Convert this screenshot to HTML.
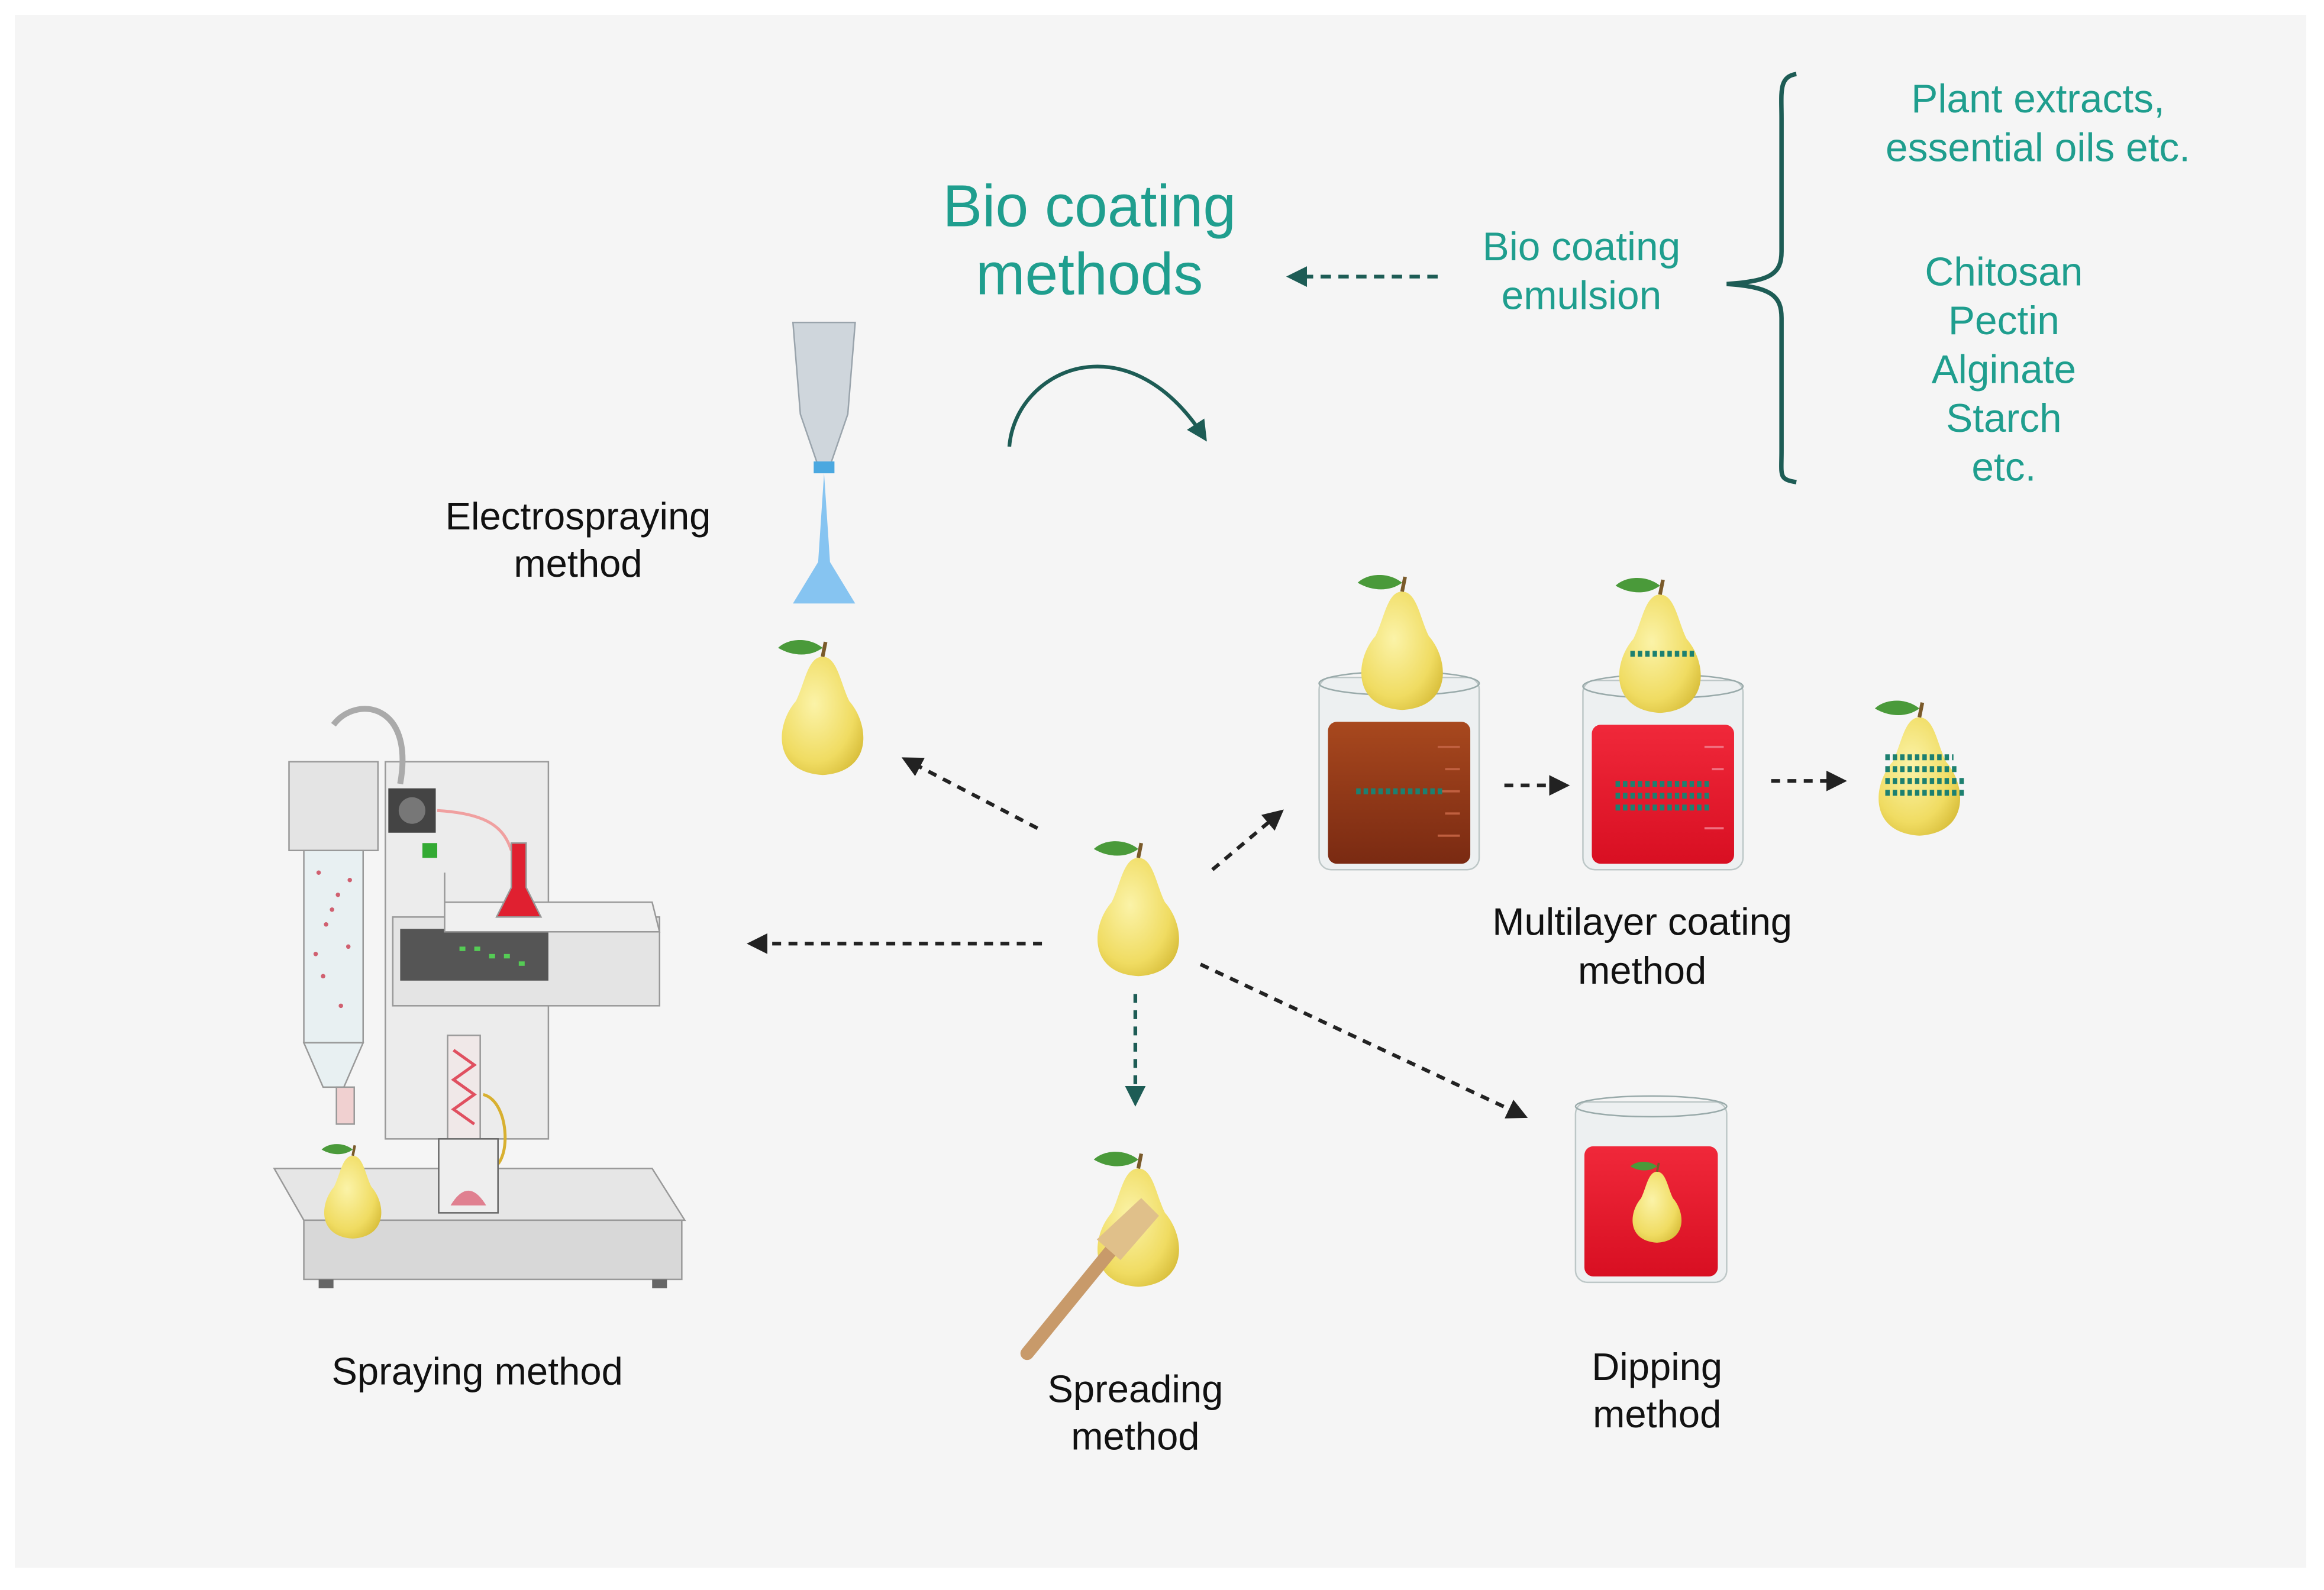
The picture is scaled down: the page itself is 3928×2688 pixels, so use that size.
<!DOCTYPE html>
<html><head><meta charset="utf-8"><style>
html,body{margin:0;padding:0;background:#fff;}
svg{display:block;}
text{font-family:"Liberation Sans",sans-serif;}
</style></head><body>
<svg width="3928" height="2688" viewBox="0 0 1568 1075" preserveAspectRatio="none" xmlns="http://www.w3.org/2000/svg">
<defs>
<radialGradient id="pg" cx="0.4" cy="0.4" r="0.7"><stop offset="0" stop-color="#fbf3a8"/><stop offset="0.7" stop-color="#f0dc62"/><stop offset="1" stop-color="#d9bf3c"/></radialGradient>
<linearGradient id="brown" x1="0" y1="0" x2="0" y2="1"><stop offset="0" stop-color="#a8481e"/><stop offset="1" stop-color="#7a2a12"/></linearGradient>
<linearGradient id="red" x1="0" y1="0" x2="0" y2="1"><stop offset="0" stop-color="#f0283a"/><stop offset="1" stop-color="#d80f22"/></linearGradient>
<marker id="ahb" viewBox="0 0 10 10" refX="7" refY="5" markerWidth="14" markerHeight="14" markerUnits="userSpaceOnUse" orient="auto"><path d="M0,0 L10,5 L0,10 z" fill="#222"/></marker>
<marker id="atb" viewBox="0 0 10 10" refX="7" refY="5" markerWidth="14" markerHeight="14" markerUnits="userSpaceOnUse" orient="auto"><path d="M0,0 L10,5 L0,10 z" fill="#1d5c55"/></marker>
<g id="pear">
<path d="M0,-38 C-10,-38 -12,-20 -18,-8 C-32,8 -34,40 0,42 C34,40 32,8 18,-8 C12,-20 10,-38 0,-38 z" fill="url(#pg)"/>
<path d="M0,-38 L2,-48" stroke="#7a5a2a" stroke-width="2.5"/>
<path d="M0,-44 C-10,-52 -24,-50 -30,-44 C-20,-38 -8,-38 0,-44 z" fill="#4a9a3a"/>
</g>
</defs>
<rect x="0" y="0" width="1568" height="1075" fill="#fff"/>
<rect x="10" y="10" width="1546" height="1050" fill="#f5f5f5"/>

<g fill="#1f9e8e" text-anchor="middle">
<text x="735" y="153" font-size="40">Bio coating</text>
<text x="735" y="199" font-size="40">methods</text>
<text x="1067" y="176" font-size="27">Bio coating</text>
<text x="1067" y="209" font-size="27">emulsion</text>
<text x="1375" y="76" font-size="27">Plant extracts,</text>
<text x="1375" y="109" font-size="27">essential oils etc.</text>
<text x="1352" y="193" font-size="27">Chitosan</text>
<text x="1352" y="226" font-size="27">Pectin</text>
<text x="1352" y="259" font-size="27">Alginate</text>
<text x="1352" y="292" font-size="27">Starch</text>
<text x="1352" y="325" font-size="27">etc.</text>
</g>
<path d="M1212,50 C1200,52 1202,62 1202,80 L1202,170 C1202,185 1195,190 1165,192 C1195,194 1202,200 1202,215 L1202,305 C1202,322 1200,324 1212,326" fill="none" stroke="#1d5c55" stroke-width="3"/>
<line x1="970" y1="187" x2="872" y2="187" stroke="#1d5c55" stroke-width="2.5" stroke-dasharray="7,5" marker-end="url(#atb)"/>
<path d="M681,302 C685,250 760,215 812,295" fill="none" stroke="#1d5c55" stroke-width="2.5" marker-end="url(#atb)"/>

<g fill="#111" text-anchor="middle" font-size="26">
<text x="390" y="358">Electrospraying</text>
<text x="390" y="390">method</text>
<text x="1108" y="632">Multilayer coating</text>
<text x="1108" y="665">method</text>
<text x="322" y="936">Spraying method</text>
<text x="766" y="948">Spreading</text>
<text x="766" y="980">method</text>
<text x="1118" y="933">Dipping</text>
<text x="1118" y="965">method</text>
</g>

<g stroke="#222" stroke-width="2.5" stroke-dasharray="6,5" fill="none">
<line x1="700" y1="560" x2="612" y2="514" marker-end="url(#ahb)"/>
<line x1="703" y1="638" x2="508" y2="638" marker-end="url(#ahb)"/>
<line x1="818" y1="588" x2="863" y2="550" marker-end="url(#ahb)"/>
<line x1="810" y1="652" x2="1027" y2="754" marker-end="url(#ahb)"/>
<line x1="1015" y1="531" x2="1055" y2="531" marker-end="url(#ahb)"/>
<line x1="1195" y1="528" x2="1242" y2="528" marker-end="url(#ahb)"/>
</g>
<line x1="766" y1="672" x2="766" y2="744" stroke="#1d5c55" stroke-width="2.5" stroke-dasharray="6,5" marker-end="url(#atb)"/>

<path d="M535,218 L577,218 L572,280 L560,315 L552,315 L540,280 z" fill="#cfd6dc" stroke="#9aa4ac"/>
<rect x="549" y="312" width="14" height="8" fill="#4aa8e0"/>
<path d="M556,320 L552,380 L535,408 L577,408 L560,380 z" fill="#6ab8f0" opacity="0.8"/>

<use href="#pear" x="555" y="482"/>
<use href="#pear" x="768" y="618"/>
<use href="#pear" x="1295" y="523"/>
<use href="#pear" x="768" y="828"/>

<rect x="890" y="458" width="108" height="130" rx="8" fill="#e8eef0" opacity="0.6" stroke="#9aa"/>
<rect x="896" y="488" width="96" height="96" rx="6" fill="url(#brown)"/>
<g stroke="#c06040" stroke-width="1.5"><line x1="970" y1="505" x2="985" y2="505"/><line x1="975" y1="520" x2="985" y2="520"/><line x1="970" y1="535" x2="985" y2="535"/><line x1="975" y1="550" x2="985" y2="550"/><line x1="970" y1="565" x2="985" y2="565"/></g>
<ellipse cx="944" cy="462" rx="54" ry="8" fill="none" stroke="#9aa"/>
<line x1="915" y1="535" x2="975" y2="535" stroke="#1d8070" stroke-width="4" stroke-dasharray="3,2"/>
<rect x="1068" y="460" width="108" height="128" rx="8" fill="#e8eef0" opacity="0.6" stroke="#9aa"/>
<rect x="1074" y="490" width="96" height="94" rx="6" fill="url(#red)"/>
<g stroke="#f07080" stroke-width="1.5"><line x1="1150" y1="505" x2="1163" y2="505"/><line x1="1155" y1="520" x2="1163" y2="520"/><line x1="1150" y1="560" x2="1163" y2="560"/></g>
<ellipse cx="1122" cy="464" rx="54" ry="8" fill="none" stroke="#9aa"/>
<g stroke="#1d8070" stroke-width="4" stroke-dasharray="3,2"><line x1="1090" y1="530" x2="1155" y2="530"/><line x1="1090" y1="538" x2="1155" y2="538"/><line x1="1090" y1="546" x2="1155" y2="546"/></g>
<g stroke="#1d8070" stroke-width="4" stroke-dasharray="3,2"><line x1="1272" y1="512" x2="1318" y2="512"/><line x1="1272" y1="520" x2="1322" y2="520"/><line x1="1272" y1="528" x2="1325" y2="528"/><line x1="1272" y1="536" x2="1325" y2="536"/></g>
<use href="#pear" x="946" y="438"/>
<use href="#pear" x="1120" y="440"/>
<g stroke="#1d8070" stroke-width="4" stroke-dasharray="3,2"><line x1="1100" y1="442" x2="1145" y2="442"/></g>

<rect x="1063" y="745" width="102" height="122" rx="8" fill="#e8eef0" opacity="0.6" stroke="#9aa"/>
<rect x="1069" y="775" width="90" height="88" rx="6" fill="url(#red)"/>
<ellipse cx="1114" cy="748" rx="51" ry="7" fill="none" stroke="#9aa"/>
<g transform="translate(1118,815) scale(0.6)"><use href="#pear"/></g>

<line x1="693" y1="915" x2="750" y2="845" stroke="#c89a6a" stroke-width="9" stroke-linecap="round"/>
<path d="M740,838 L770,810 L782,822 L756,852 z" fill="#e0c08a"/>

<!-- spray dryer -->
<path d="M185,790 L440,790 L462,825 L205,825 z" fill="#e6e6e6" stroke="#999"/>
<rect x="205" y="825" width="255" height="40" fill="#d8d8d8" stroke="#999"/>
<rect x="215" y="865" width="10" height="6" fill="#666"/><rect x="440" y="865" width="10" height="6" fill="#666"/>
<rect x="195" y="515" width="60" height="60" fill="#e4e4e4" stroke="#999"/>
<rect x="205" y="575" width="40" height="130" fill="#e8f0f2" stroke="#999"/>
<g fill="#d06070"><circle cx="215" cy="590" r="1.5"/><circle cx="228" cy="605" r="1.5"/><circle cx="220" cy="625" r="1.5"/><circle cx="235" cy="640" r="1.5"/><circle cx="218" cy="660" r="1.5"/><circle cx="230" cy="680" r="1.5"/><circle cx="224" cy="615" r="1.5"/><circle cx="236" cy="595" r="1.5"/><circle cx="213" cy="645" r="1.5"/></g>
<path d="M205,705 L245,705 L232,735 L218,735 z" fill="#e8f0f2" stroke="#999"/>
<rect x="260" y="515" width="110" height="255" fill="#ececec" stroke="#999"/>
<rect x="262" y="533" width="32" height="30" fill="#444"/>
<circle cx="278" cy="548" r="9" fill="#777"/>
<rect x="285" y="570" width="10" height="10" fill="#3a3"/>
<path d="M225,490 C240,470 280,475 270,530" fill="none" stroke="#aaa" stroke-width="4"/>
<path d="M295,548 C330,550 340,560 345,575" fill="none" stroke="#f0a0a0" stroke-width="2"/>
<rect x="265" y="620" width="180" height="60" fill="#e4e4e4" stroke="#999"/>
<rect x="270" y="628" width="100" height="35" fill="#555"/>
<g fill="#5c5"><rect x="310" y="640" width="4" height="3"/><rect x="320" y="640" width="4" height="3"/><rect x="330" y="645" width="4" height="3"/><rect x="340" y="645" width="4" height="3"/><rect x="350" y="650" width="4" height="3"/></g>
<path d="M300,590 L300,610 L440,610 L445,630 L300,630 z" fill="#f0f0f0" stroke="#999"/>
<path d="M345,570 L345,600 L335,620 L365,620 L355,600 L355,570 z" fill="#e02030" stroke="#999"/>
<rect x="302" y="700" width="22" height="75" fill="#f0e8e8" stroke="#999"/>
<path d="M306,710 L320,720 L306,730 L320,740 L306,750 L320,760" fill="none" stroke="#e05060" stroke-width="2"/>
<path d="M326,740 C345,745 345,790 330,790" fill="none" stroke="#d8b030" stroke-width="2"/>
<rect x="296" y="770" width="40" height="50" fill="#eee" stroke="#666"/>
<path d="M304,815 Q316,795 328,815 z" fill="#e08090"/>
<rect x="227" y="735" width="12" height="25" fill="#f0d0d0" stroke="#999"/>
<use href="#pear" x="238" y="808" transform="translate(238,808) scale(0.7) translate(-238,-808)"/>
</svg>
</body></html>
